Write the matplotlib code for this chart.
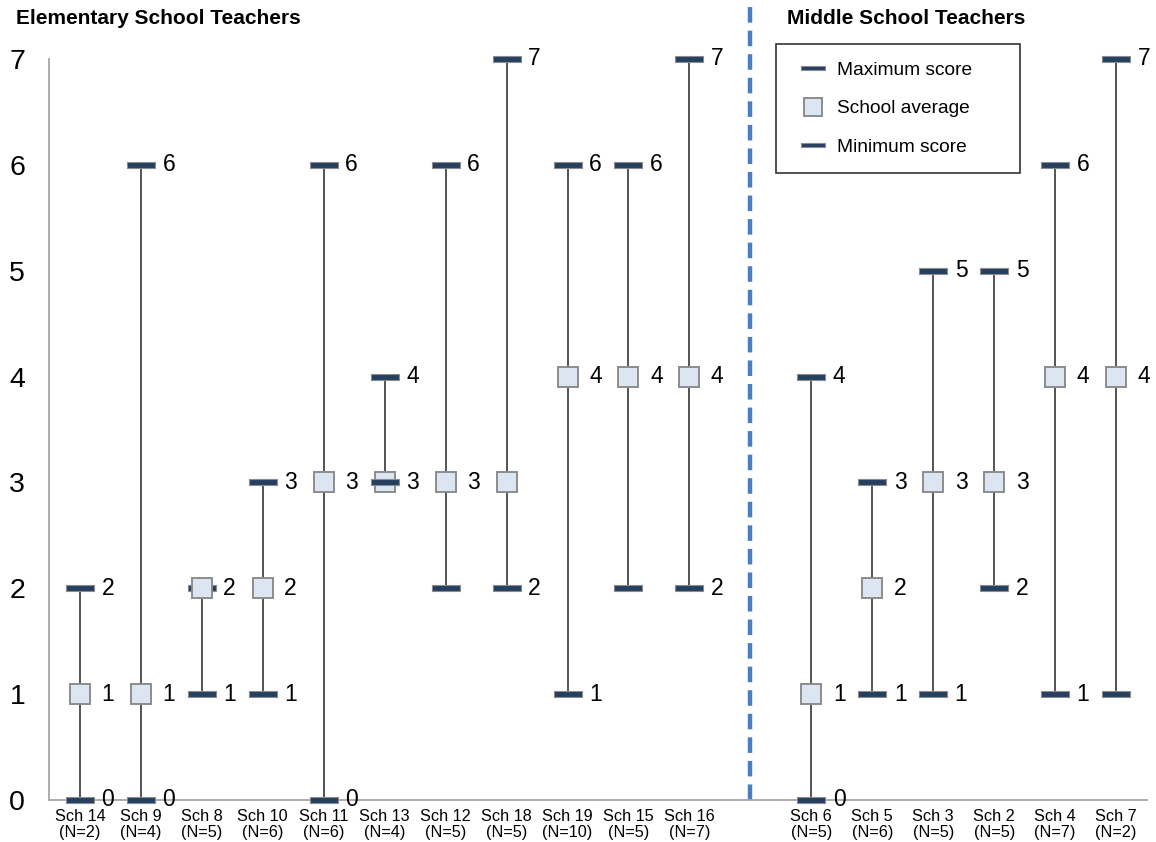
import numpy as np
import matplotlib
matplotlib.use('Agg')
import matplotlib.pyplot as plt
from matplotlib.lines import Line2D

plt.rcParams['font.family'] = ['Liberation Sans', 'DejaVu Sans']

# elementary schools, then middle schools
elem_schools = ['Sch 14', 'Sch 9', 'Sch 8', 'Sch 10', 'Sch 11', 'Sch 13', 'Sch 12',
                'Sch 18', 'Sch 19', 'Sch 15', 'Sch 16']
elem_n = [2, 4, 5, 6, 6, 4, 5, 5, 10, 5, 7]
elem_max = [2, 6, 2, 3, 6, 4, 6, 7, 6, 6, 7]
elem_avg = [1, 1, 2, 2, 3, 3, 3, 3, 4, 4, 4]
elem_min = [0, 0, 1, 1, 0, 3, 2, 2, 1, 2, 2]

mid_schools = ['Sch 6', 'Sch 5', 'Sch 3', 'Sch 2', 'Sch 4', 'Sch 7']
mid_n = [5, 6, 5, 5, 7, 2]
mid_max = [4, 3, 5, 5, 6, 7]
mid_avg = [1, 2, 3, 3, 4, 4]
mid_min = [0, 1, 1, 2, 1, 1]

# which data labels are shown in the original (max labels always shown)
avg_shown = [1, 1, 1, 1, 1, 1, 1, 0, 1, 1, 1] + [1, 1, 1, 1, 1, 1]
min_shown = [1, 1, 1, 1, 1, 1, 0, 1, 1, 0, 1] + [1, 1, 1, 1, 1, 0]

schools = elem_schools + mid_schools
counts = elem_n + mid_n
max_s = np.array(elem_max + mid_max)
avg_s = np.array(elem_avg + mid_avg)
min_s = np.array(elem_min + mid_min)

# one empty slot between the two groups
gap = len(elem_schools)
x = np.array(list(range(gap)) + list(range(gap + 1, gap + 1 + len(mid_schools))))

fig = plt.figure(figsize=(11.56, 8.42), dpi=100)
ax = fig.add_axes([0.0428, 0.0499, 0.9490, 0.8801])

navy = '#243F60'
dash_marker = [(-1, -0.2), (1, -0.2), (1, 0.2), (-1, 0.2), (-1, -0.2)]

# high-low lines
ax.vlines(x, min_s, max_s, color='#262626', lw=1.1, zorder=2)

mk_dash = dict(marker=dash_marker, markersize=19.5, markerfacecolor=navy,
               markeredgecolor='#8C8C8C', markeredgewidth=0.8, linestyle='none')
mk_sq = dict(marker='s', markersize=14.5, markerfacecolor='#DCE6F2',
             markeredgecolor='#8C8C8C', markeredgewidth=1.4, linestyle='none')

ax.plot(x, max_s, clip_on=False, zorder=3, **mk_dash)
ax.plot(x, avg_s, clip_on=False, zorder=4, **mk_sq)
ax.plot(x, min_s, clip_on=False, zorder=5, **mk_dash)

def put_label(xi, yi):
    ax.annotate(str(yi), (xi, yi), xytext=(15.5, 0), textcoords='offset points',
                ha='left', va='center', fontsize=16.5, color='black', zorder=6)

for i in range(len(x)):
    put_label(x[i], max_s[i])
    if avg_shown[i] and avg_s[i] != max_s[i]:
        put_label(x[i], avg_s[i])
    if min_shown[i] and min_s[i] != avg_s[i]:
        put_label(x[i], min_s[i])

# divider between elementary and middle schools
ax.plot([gap, gap], [0, 7.56], color='#4A7EC2', lw=3.2, linestyle=(0, (3.5, 1.8)),
        clip_on=False, zorder=1)

ax.set_xlim(-0.5, len(schools) + 0.5)
ax.set_ylim(0, 7)
ax.set_yticks(range(0, 8))
ax.set_xticks(x)
ax.set_xticklabels([f'{s}\n(N={n})' for s, n in zip(schools, counts)], fontsize=11.7,
                   linespacing=1.1)
ax.tick_params(axis='y', length=0, pad=17.5, labelsize=20.5)
ax.tick_params(axis='x', length=0, pad=6.5)

for side in ['top', 'right']:
    ax.spines[side].set_visible(False)
for side in ['left', 'bottom']:
    ax.spines[side].set_color('#A6A6A6')
    ax.spines[side].set_linewidth(1.3)

handles = [
    Line2D([], [], **dict(mk_dash, markersize=17.5)),
    Line2D([], [], **dict(mk_sq, markersize=13)),
    Line2D([], [], **dict(mk_dash, markersize=17.5)),
]
leg = ax.legend(handles, ['Maximum score', 'School average', 'Minimum score'],
                loc='upper left', bbox_to_anchor=(0.662, 1.020, 0.2224, 0.0),
                mode='expand', borderaxespad=0, fontsize=13.8, frameon=True,
                fancybox=False, edgecolor='black', borderpad=0.9, handlelength=2.1,
                handletextpad=0.2, labelspacing=1.1)
leg.get_frame().set_linewidth(1.2)

fig.text(0.0138, 0.978, 'Elementary School Teachers', fontsize=15, fontweight='bold',
         ha='left', va='center')
fig.text(0.681, 0.978, 'Middle School Teachers', fontsize=15, fontweight='bold',
         ha='left', va='center')

fig.savefig('out.png', dpi=100)
